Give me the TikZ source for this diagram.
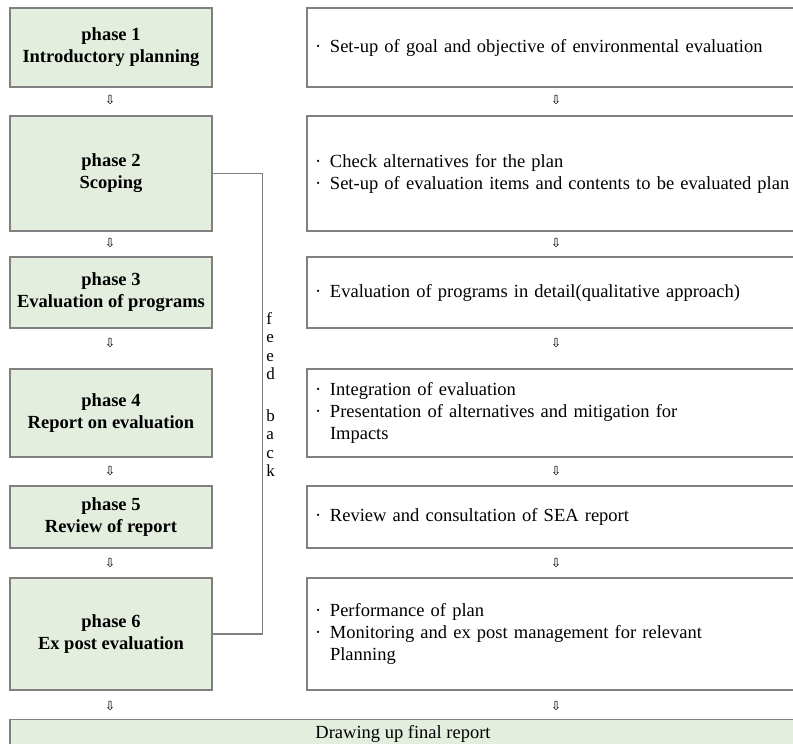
\documentclass[tikz,border=0pt]{standalone}
\usepackage{fontspec}
\setmainfont{Liberation Serif}
\newfontfamily\arrowfont{DejaVu Sans}
\usetikzlibrary{positioning}
\definecolor{phasegreen}{RGB}{228,238,223}
\definecolor{framegray}{RGB}{128,128,128}
\newcommand{\bul}{\makebox[17bp][l]{\hspace{2bp}·}}
\newcommand{\cont}{\hspace*{17bp}}
\tikzset{
  phase/.style={draw=framegray, line width=1.2bp, fill=phasegreen, minimum width=202bp,
                minimum height=#1, align=center, inner sep=0pt,
                font=\fontsize{18.5bp}{22bp}\selectfont\bfseries},
  task/.style={draw=framegray, line width=1.2bp, fill=white, minimum width=489bp,
               minimum height=#1, text width=477bp, inner xsep=6bp, inner ysep=0pt,
               align=left, font=\fontsize{18.5bp}{22bp}\selectfont},
  final/.style={draw=framegray, line width=1.2bp, fill=phasegreen, minimum width=786bp,
                inner ysep=6bp, align=center, font=\fontsize{18.5bp}{22bp}\selectfont},
  down/.style={inner sep=0pt, text=black, font=\arrowfont\fontsize{12.5bp}{12.5bp}\selectfont},
  fb/.style={draw=framegray, line width=1.5bp},
  fbtext/.style={align=left, inner sep=3bp, font=\fontsize{17bp}{18.5bp}\selectfont}
}
\begin{document}
\begin{tikzpicture}[x=1bp, y=-1bp]
\useasboundingbox (0,0) rectangle (793,744);
\clip (0,0) rectangle (793,744);
% left column: phases
\node[phase=79bp] (p1) at (111,47.5) {phase 1\\ Introductory planning};
\node[phase=115bp] (p2) at (111,173.5) {phase 2\\ Scoping};
\node[phase=71bp] (p3) at (111,292.5) {phase 3\\ Evaluation of programs};
\node[phase=88bp] (p4) at (111,413) {phase 4\\ Report on evaluation};
\node[phase=62bp] (p5) at (111,517) {phase 5\\ Review of report};
\node[phase=112bp] (p6) at (111,634) {phase 6\\ Ex post evaluation};
% right column: contents
\node[task=79bp] (t1) at (551.5,47.5) {\bul Set-up of goal and objective of environmental evaluation};
\node[task=115bp] (t2) at (551.5,173.5) {\bul Check alternatives for the plan\\
  \bul Set-up of evaluation items and contents to be evaluated plan};
\node[task=71bp] (t3) at (551.5,292.5) {\bul Evaluation of programs in detail(qualitative approach)};
\node[task=88bp] (t4) at (551.5,413) {\bul Integration of evaluation\\
  \bul Presentation of alternatives and mitigation for\\ \cont Impacts};
\node[task=62bp] (t5) at (551.5,517) {\bul Review and consultation of SEA report};
\node[task=112bp] (t6) at (551.5,634) {\bul Performance of plan\\
  \bul Monitoring and ex post management for relevant\\ \cont Planning};
% bottom
\node[final, anchor=north] (rep) at (403,719) {Drawing up final report\\ \strut};
% small arrows between the rows
\foreach \y [count=\i] in {100,243,343,471,563,706} {
  \node[down] (la\i) at (110,\y) {⇩};
  \node[down] (ra\i) at (556,\y) {⇩};
}
% feedback loop
\draw[fb] (p2.east) -- ++(50,0) |- node[pos=0.24, right, fbtext] (fbl) {f\\ e\\ e\\ d\\[23bp] b\\ a\\ c\\ k} (p6.east);
\end{tikzpicture}
\end{document}
